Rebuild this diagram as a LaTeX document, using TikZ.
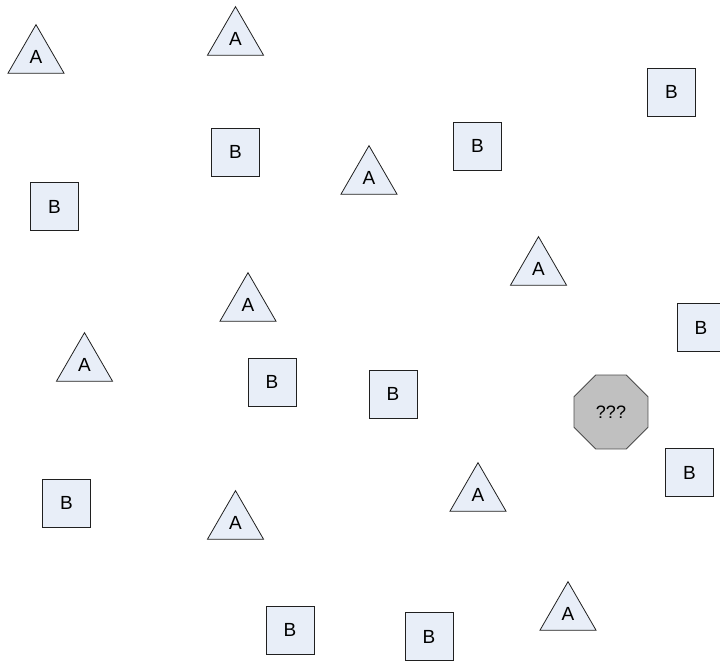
\documentclass[tikz,border=0pt]{standalone}
\usepackage{fontspec}
\setmainfont{Liberation Sans}
\usetikzlibrary{shapes.geometric}
\definecolor{boxfill}{HTML}{E8EEF8}
\definecolor{octfill}{HTML}{C0C0C0}
\definecolor{edge}{HTML}{202020}
\tikzset{
  x=1pt, y=-1pt,
  every node/.style={font=\fontsize{19}{22}\selectfont, inner sep=0pt, outer sep=0pt},
  tri/.style={regular polygon, regular polygon sides=3, minimum size=64.7pt, draw=edge, fill=boxfill, line width=0.8pt},
  sq/.style={rectangle, minimum width=48pt, minimum height=48pt, draw=edge, fill=boxfill, line width=0.8pt},
  oct/.style={regular polygon, regular polygon sides=8, minimum size=80pt, draw=edge!80, fill=octfill, line width=0.8pt, font=\fontsize{18}{21}\selectfont}
}
\begin{document}
\begin{tikzpicture}
\useasboundingbox (0,0) rectangle (720,662);
% triangles
\node[tri] (a1) at (36,57) {A};
\node[tri] (a2) at (235.5,39) {A};
\node[tri] (a3) at (369,178) {A};
\node[tri] (a4) at (538.5,269) {A};
\node[tri] (a5) at (248,305) {A};
\node[tri] (a6) at (84.5,365) {A};
\node[tri] (a7) at (478,495) {A};
\node[tri] (a8) at (235.5,523) {A};
\node[tri] (a9) at (568,614) {A};
% squares
\node[sq] (b1) at (671.5,92) {B};
\node[sq] (b2) at (235.5,152) {B};
\node[sq] (b3) at (477.5,146) {B};
\node[sq] (b4) at (54.5,206.5) {B};
\node[sq] (b5) at (701,327.5) {B};
\node[sq] (b6) at (272,382) {B};
\node[sq] (b7) at (393,394) {B};
\node[sq] (b8) at (689.5,472.5) {B};
\node[sq] (b9) at (66.5,503) {B};
\node[sq] (b10) at (290,630) {B};
\node[sq] (b11) at (429,636.5) {B};
% octagon
\node[oct] (q) at (611,412) {???};
\end{tikzpicture}
\end{document}
